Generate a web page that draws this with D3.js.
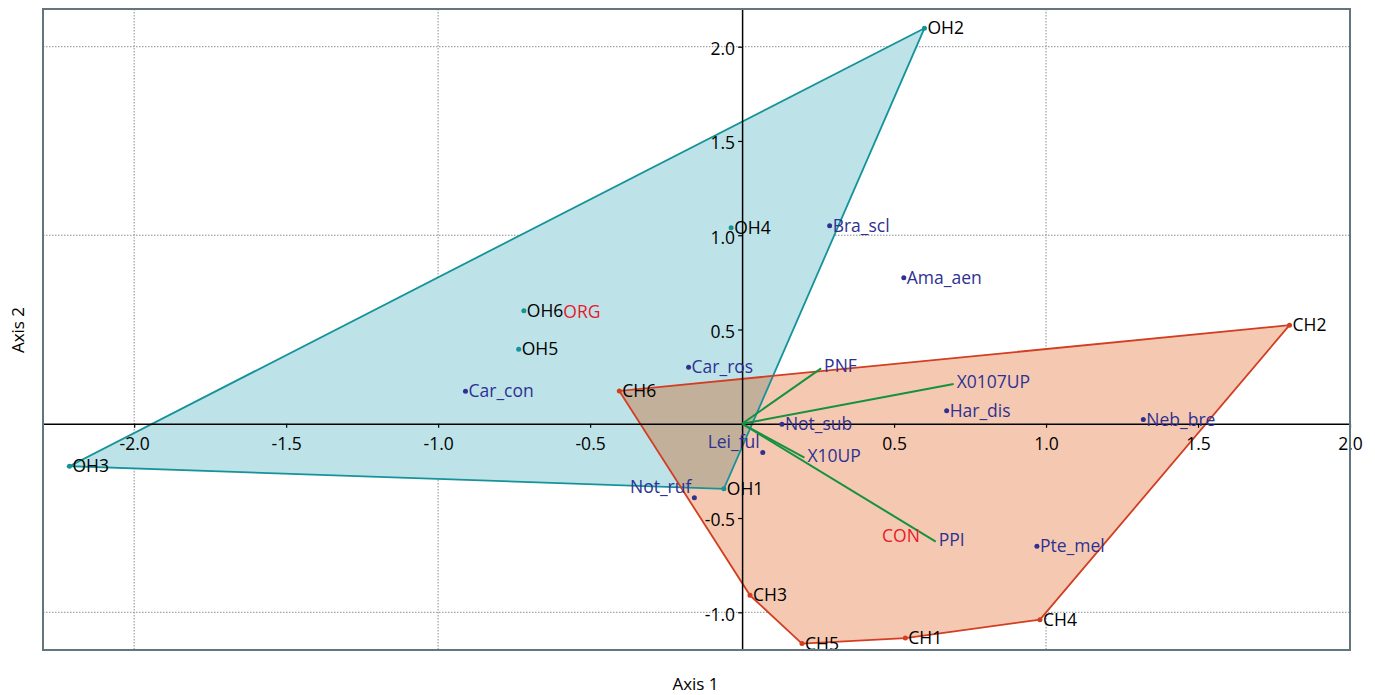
<!DOCTYPE html>
<html>
<head>
<meta charset="utf-8">
<script src="https://cdn.jsdelivr.net/npm/d3@7"></script>
<style>
  body { margin: 0; background: #fff; }
  svg { font-family: "Open Sans", sans-serif; }
</style>
</head>
<body>
<svg id="chart" width="1375" height="695"></svg>
<script>
// site scores
var siteNames = ['OH1', 'OH2', 'OH3', 'OH4', 'OH5', 'OH6', 'CH1', 'CH2', 'CH3', 'CH4', 'CH5', 'CH6'];
var siteX = [-0.06, 0.60, -2.213, -0.036, -0.735, -0.718, 0.537, 1.801, 0.026, 0.98, 0.197, -0.404];
var siteY = [-0.345, 2.098, -0.225, 1.04, 0.395, 0.60, -1.137, 0.523, -0.91, -1.039, -1.166, 0.174];
var siteGroup = ['ORG', 'ORG', 'ORG', 'ORG', 'ORG', 'ORG', 'CON', 'CON', 'CON', 'CON', 'CON', 'CON'];
var groups = ['ORG', 'CON'];

// species scores
var speciesNames = ['Bra_scl', 'Ama_aen', 'Car_ros', 'Car_con', 'Not_sub', 'Lei_ful', 'Not_ruf', 'Har_dis', 'Neb_bre', 'Pte_mel'];
var speciesX = [0.288, 0.532, -0.176, -0.91, 0.131, 0.068, -0.157, 0.673, 1.32, 0.970];
var speciesY = [1.05, 0.775, 0.30, 0.173, -0.003, -0.152, -0.393, 0.069, 0.023, -0.65];

// environmental vectors
var vectorNames = ['PNF', 'X0107UP', 'X10UP', 'PPI'];
var vectorX = [0.26, 0.696, 0.205, 0.637];
var vectorY = [0.294, 0.211, -0.18, -0.625];

// ticks
var xTicks = [-2.0, -1.5, -1.0, -0.5, 0.5, 1.0, 1.5, 2.0];
var yTicks = [-1.0, -0.5, 0.5, 1.0, 1.5, 2.0];
var xGrid = [-2, -1, 1, 2];
var yGrid = [-1, 1, 2];

var groupStyle = {
	ORG: { fill: '#bde3e8', stroke: '#15939a', dot: '#15939a' },
	CON: { fill: '#f5c9b1', stroke: '#d23e22', dot: '#d23e22' }
};
var overlapFill = '#c3b09b';
var speciesColor = '#2e3192';
var vectorColor = '#15913f';
var labelLeft = { Lei_ful: [-3, -11], Not_ruf: [-3, -11] };
var fontSize = '17.5px';

var svg = d3.select('#chart');
var plotL = 43, plotR = 1350, plotT = 9, plotB = 650;

var x = d3.scaleLinear().domain([-2.3, 2.0]).range([plotL, plotR]);
var y = d3.scaleLinear().domain([-1.2, 2.2]).range([plotB, plotT]);

var sites = siteNames.map(function(n, i) { return { name: n, x: siteX[i], y: siteY[i], group: siteGroup[i] }; });
var species = speciesNames.map(function(n, i) { return { name: n, x: speciesX[i], y: speciesY[i] }; });
var vectors = vectorNames.map(function(n, i) { return { name: n, x: vectorX[i], y: vectorY[i] }; });

// grid
var grid = svg.append('g').attr('class', 'grid');
grid.selectAll('.gx').data(xGrid).enter().append('line')
	.attr('x1', function(d) { return x(d); }).attr('x2', function(d) { return x(d); })
	.attr('y1', plotT).attr('y2', plotB)
	.style('stroke', '#8a8f94').style('stroke-width', 1).style('stroke-dasharray', '1.5,1.5');
grid.selectAll('.gy').data(yGrid).enter().append('line')
	.attr('y1', function(d) { return y(d); }).attr('y2', function(d) { return y(d); })
	.attr('x1', plotL).attr('x2', plotR)
	.style('stroke', '#8a8f94').style('stroke-width', 1).style('stroke-dasharray', '1.5,1.5');

// hulls
var hulls = {};
groups.forEach(function(g) {
	var pts = sites.filter(function(d) { return d.group === g; })
		.map(function(d) { return [x(d.x), y(d.y)]; });
	hulls[g] = 'M' + d3.polygonHull(pts).join('L') + 'Z';
	svg.append('path')
		.attr('d', hulls[g])
		.style('fill', groupStyle[g].fill)
		.style('stroke', 'none');
});
svg.append('clipPath').attr('id', 'clipOrg')
	.append('path').attr('d', hulls.ORG);
svg.append('path')
	.attr('d', hulls.CON)
	.attr('clip-path', 'url(#clipOrg)')
	.style('fill', overlapFill);
groups.forEach(function(g) {
	svg.append('path')
		.attr('d', hulls[g])
		.style('fill', 'none')
		.style('stroke', groupStyle[g].stroke)
		.style('stroke-width', 1.8);
});

// axes through origin
var fmt = function(d) { return d.toFixed(1); };
var xAxis = svg.append('g')
	.attr('transform', 'translate(0,' + y(0) + ')')
	.call(d3.axisBottom(x).tickValues(xTicks).tickFormat(fmt).tickSize(4).tickSizeOuter(0).tickPadding(10));
var yAxis = svg.append('g')
	.attr('transform', 'translate(' + x(0) + ',0)')
	.call(d3.axisLeft(y).tickValues(yTicks).tickFormat(fmt).tickSize(4).tickSizeOuter(0).tickPadding(3));
[xAxis, yAxis].forEach(function(a) {
	a.select('.domain').style('stroke', '#000').style('stroke-width', 1.5);
	a.selectAll('.tick line').style('stroke', '#000').style('stroke-width', 1.2);
	a.selectAll('.tick text').style('font-family', '"Open Sans", sans-serif').style('font-size', fontSize).style('fill', '#000');
});
yAxis.selectAll('.tick text').attr('dy', '0.45em');

// vectors
svg.selectAll('.vec').data(vectors).enter().append('line')
	.attr('x1', x(0)).attr('y1', y(0))
	.attr('x2', function(d) { return x(d.x); }).attr('y2', function(d) { return y(d.y); })
	.style('stroke', vectorColor).style('stroke-width', 2);
svg.selectAll('.vlab').data(vectors).enter().append('text')
	.attr('x', function(d) { return x(d.x) + 3; })
	.attr('y', function(d) { return y(d.y) - 2; })
	.attr('dy', '0.35em')
	.style('font-size', fontSize).style('fill', speciesColor)
	.text(function(d) { return d.name; });

// sites
svg.selectAll('.site').data(sites).enter().append('circle')
	.attr('cx', function(d) { return x(d.x); }).attr('cy', function(d) { return y(d.y); })
	.attr('r', 2.5)
	.style('fill', function(d) { return groupStyle[d.group].dot; });
svg.selectAll('.slab').data(sites).enter().append('text')
	.attr('x', function(d) { return x(d.x) + 3; })
	.attr('y', function(d) { return y(d.y); })
	.attr('dy', '0.35em')
	.style('font-size', fontSize).style('fill', '#000')
	.text(function(d) { return d.name; });

// species
svg.selectAll('.sp').data(species).enter().append('circle')
	.attr('cx', function(d) { return x(d.x); }).attr('cy', function(d) { return y(d.y); })
	.attr('r', 2.5)
	.style('fill', speciesColor);
svg.selectAll('.splab').data(species).enter().append('text')
	.attr('x', function(d) { return x(d.x) + (labelLeft[d.name] ? labelLeft[d.name][0] : 3); })
	.attr('y', function(d) { return y(d.y) + (labelLeft[d.name] ? labelLeft[d.name][1] : 0); })
	.attr('dy', '0.35em')
	.attr('text-anchor', function(d) { return labelLeft[d.name] ? 'end' : 'start'; })
	.style('font-size', fontSize).style('fill', speciesColor)
	.text(function(d) { return d.name; });

// group centroids
groups.forEach(function(g) {
	var members = sites.filter(function(d) { return d.group === g; });
	svg.append('text')
		.attr('x', x(d3.mean(members, function(d) { return d.x; })))
		.attr('y', y(d3.mean(members, function(d) { return d.y; })))
		.attr('dy', '0.35em')
		.attr('text-anchor', 'middle')
		.style('font-size', fontSize).style('fill', '#e8192c')
		.text(g);
});

// frame
svg.append('rect')
	.attr('x', plotL).attr('y', plotT).attr('width', plotR - plotL).attr('height', plotB - plotT)
	.style('fill', 'none').style('stroke', '#637680').style('stroke-width', 2);

// axis titles
svg.append('text')
	.attr('x', (plotL + plotR) / 2 - 1).attr('y', 690)
	.attr('text-anchor', 'middle')
	.style('font-size', '17px')
	.text('Axis 1');
svg.append('text')
	.attr('transform', 'translate(24,' + 330 + ') rotate(-90)')
	.attr('text-anchor', 'middle')
	.style('font-size', '17px')
	.text('Axis 2');
</script>
</body>
</html>
